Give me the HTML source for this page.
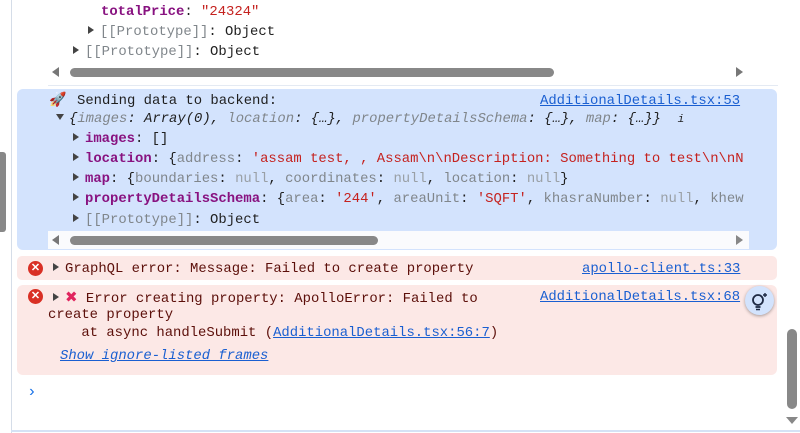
<!DOCTYPE html><html><head><style>
body{margin:0;width:800px;height:433px;overflow:hidden;background:#fff;font-family:"Liberation Mono",monospace;font-size:13.9px;color:#1f1f1f;position:relative}
.a{position:absolute;white-space:pre;line-height:18px}
.k{color:#881280;font-weight:bold}.s{color:#c5221f}.g{color:#80868b}.n{color:#9aa0a6}
.l{color:#1a5fd1;text-decoration:underline}
.t{display:inline-block;width:0;height:0;border-left:6px solid #444;border-top:4.5px solid transparent;border-bottom:4.5px solid transparent;margin-right:6px;vertical-align:1px}
.td{display:inline-block;width:0;height:0;border-top:6px solid #444;border-left:4.5px solid transparent;border-right:4.5px solid transparent;margin-right:5px;vertical-align:2px}
.x{position:absolute;width:15px;height:15px;border-radius:50%;background:#d93025;color:#fff;font:bold 11px/15px "Liberation Sans",sans-serif;text-align:center}
</style></head><body>
<div style="position:absolute;left:11px;top:0;width:1px;height:433px;background:#d5dde8"></div>
<div style="position:absolute;left:0;top:152px;width:6px;height:80px;background:#888;border-radius:0 3px 3px 0"></div>
<div style="position:absolute;left:11px;top:430px;width:789px;height:2px;background:#d5e2f5"></div>
<div class="a" style="left:101px;top:3px"><span class="k">totalPrice</span>: <span class="s">"24324"</span></div>
<div class="a" style="left:88px;top:23px"><span class="t"></span><span class="g">[[Prototype]]</span>: Object</div>
<div class="a" style="left:73px;top:43px"><span class="t"></span><span class="g">[[Prototype]]</span>: Object</div>
<div style="position:absolute;left:52px;top:67px;border-right:7px solid #777;border-top:5px solid transparent;border-bottom:5px solid transparent"></div>
<div style="position:absolute;left:70px;top:68px;width:484px;height:9px;background:#888;border-radius:5px"></div>
<div style="position:absolute;left:736px;top:67px;border-left:7px solid #777;border-top:5px solid transparent;border-bottom:5px solid transparent"></div>
<div style="position:absolute;left:48px;top:85px;width:730px;height:1px;background:#e4eaf3"></div>
<div style="position:absolute;left:17px;top:89px;width:760px;height:161px;background:#d3e3fd;border-radius:6px"></div>
<div class="a" style="left:49px;top:92px;font-size:14px">🚀</div>
<div class="a" style="left:77px;top:92px">Sending data to backend:</div>
<div class="a l" style="left:540px;top:92px">AdditionalDetails.tsx:53</div>
<div class="a" style="left:56px;top:110px;font-style:italic"><span class="td"></span>{<span class="g">images</span>: Array(0), <span class="g">location</span>: {…}, <span class="g">propertyDetailsSchema</span>: {…}, <span class="g">map</span>: {…}}  <span style="font-size:11px">i</span></div>
<div class="a" style="left:73px;top:130px"><span class="t"></span><span class="k">images</span>: []</div>
<div class="a" style="left:73px;top:150px"><span class="t"></span><span class="k">location</span>: {<span class="g">address</span>: <span class="s">'assam test, , Assam\n\nDescription: Something to test\n\nN</span></div>
<div class="a" style="left:73px;top:170px"><span class="t"></span><span class="k">map</span>: {<span class="g">boundaries</span>: <span class="n">null</span>, <span class="g">coordinates</span>: <span class="n">null</span>, <span class="g">location</span>: <span class="n">null</span>}</div>
<div class="a" style="left:73px;top:190px"><span class="t"></span><span class="k">propertyDetailsSchema</span>: {<span class="g">area</span>: <span class="s">'244'</span>, <span class="g">areaUnit</span>: <span class="s">'SQFT'</span>, <span class="g">khasraNumber</span>: <span class="n">null</span>, <span class="g">khew</span></div>
<div class="a" style="left:73px;top:211px"><span class="t"></span><span class="g">[[Prototype]]</span>: Object</div>
<div style="position:absolute;left:48px;top:231px;width:701px;height:18px;background:#fafbfd"></div>
<div style="position:absolute;left:52px;top:235px;border-right:7px solid #777;border-top:5px solid transparent;border-bottom:5px solid transparent"></div>
<div style="position:absolute;left:70px;top:236px;width:308px;height:9px;background:#888;border-radius:5px"></div>
<div style="position:absolute;left:736px;top:235px;border-left:7px solid #888;border-top:5px solid transparent;border-bottom:5px solid transparent"></div>
<div style="position:absolute;left:17px;top:256px;width:760px;height:24px;background:#fce8e6;border-radius:5px"></div>
<div class="x" style="left:28px;top:261px">✕</div>
<div class="a" style="left:53px;top:260px;color:#5c0f0a"><span class="t"></span>GraphQL error: Message: Failed to create property</div>
<div class="a l" style="left:582px;top:260px">apollo-client.ts:33</div>
<div style="position:absolute;left:17px;top:285px;width:760px;height:90px;background:#fce8e6;border-radius:6px"></div>
<div class="x" style="left:28px;top:289px">✕</div>
<div class="a" style="left:53px;top:288px;color:#5c0f0a"><span class="t"></span><span style="color:#e0245e;font-family:'DejaVu Sans',sans-serif;font-size:15px">✖</span> Error creating property: ApolloError: Failed to</div>
<div class="a" style="left:48px;top:306px;color:#5c0f0a">create property
    at async handleSubmit (<span class="l">AdditionalDetails.tsx:56:7</span>)</div>
<div class="a l" style="left:540px;top:288px">AdditionalDetails.tsx:68</div>
<div class="a l" style="left:60px;top:347px;font-style:italic">Show ignore-listed frames</div>
<div style="position:absolute;left:745px;top:286px;width:29px;height:29px;border-radius:50%;background:#d3e3fd;box-shadow:0 1px 3px rgba(0,0,0,.35)">
<svg width="29" height="29" viewBox="0 0 29 29"><circle cx="13" cy="14" r="5" fill="none" stroke="#1f2a44" stroke-width="1.8"/><line x1="10.5" y1="21" x2="15.5" y2="21" stroke="#1f2a44" stroke-width="1.8"/><line x1="11" y1="23.5" x2="15" y2="23.5" stroke="#1f2a44" stroke-width="1.5"/><path d="M20 7v4M18 9h4" stroke="#1f2a44" stroke-width="1.4"/></svg></div>
<div class="a" style="left:27px;top:383px;color:#1a73e8;font-size:16px">›</div>
<div style="position:absolute;left:787px;top:329px;width:10px;height:80px;background:#888;border-radius:5px"></div>
<div style="position:absolute;left:786px;top:417px;border-top:7px solid #888;border-left:6px solid transparent;border-right:6px solid transparent"></div>
</body></html>
